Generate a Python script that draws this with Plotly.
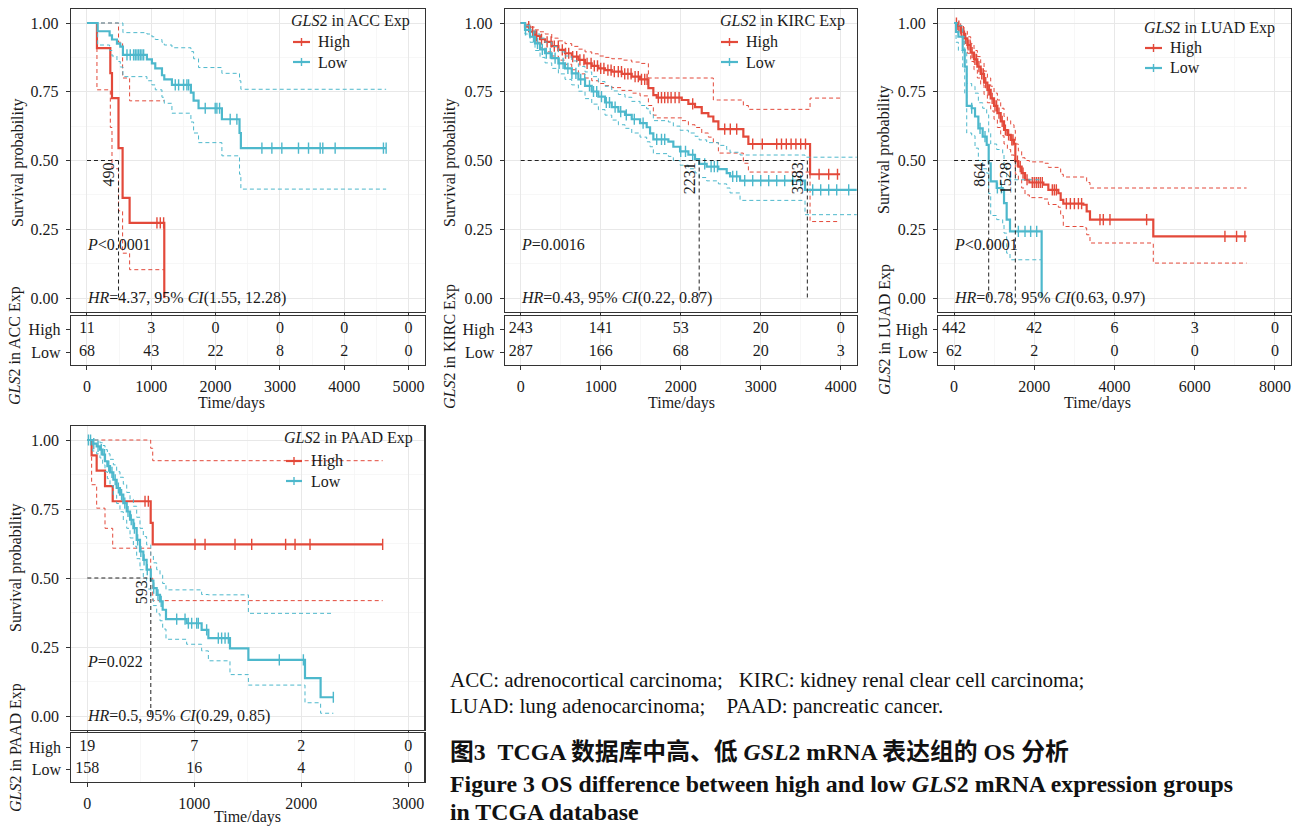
import plotly.graph_objects as go

W, H = 1298, 826
RED = '#E3493A'
TEAL = '#4DB8CC'
FONT = 'Liberation Serif'
TXT = '#1a1a1a'
FS = 16

# ---------------- ACC ----------------
acc_high_t = [0, 155, 363, 389, 490, 554, 663, 1202]
acc_high_s = [1.0, 0.909, 0.818, 0.727, 0.545, 0.364, 0.273, 0.0]
acc_high_up = [1.0, 1.0, 1.0, 1.0, 0.93, 0.80, 0.717, None]
acc_high_lo = [1.0, 0.757, 0.62, 0.47, 0.317, 0.163, 0.103, None]
acc_high_cens = [1088, 1140, 1192]
acc_high_end = 1202

acc_low_t = [0, 166, 352, 389, 466, 518, 559, 932, 1010, 1062, 1166, 1202, 1321, 1616, 1658, 1735, 2098, 2372, 2393]
acc_low_s = [1.0, 0.97, 0.955, 0.94, 0.925, 0.914, 0.884, 0.868, 0.853, 0.835, 0.81, 0.795, 0.775, 0.747, 0.718, 0.69, 0.65, 0.60, 0.545]
acc_low_up = [1.0, 1.0, 1.0, 1.0, 1.0, 1.0, 0.965, 0.96, 0.95, 0.94, 0.93, 0.92, 0.91, 0.896, 0.87, 0.838, 0.817, 0.79, 0.759]
acc_low_lo = [1.0, 0.92, 0.90, 0.88, 0.86, 0.84, 0.805, 0.79, 0.775, 0.757, 0.73, 0.708, 0.672, 0.64, 0.60, 0.565, 0.517, 0.45, 0.396]
acc_low_cens = [622, 673, 725, 751, 777, 803, 829, 855, 881, 1373, 1425, 1502, 1554, 1580, 1839, 1994, 2020, 2062,
                2227, 2331, 2720, 2875, 3030, 3289, 3445, 3626, 3667, 3859, 4610, 4652]
acc_low_end = 4652

acc_risk_times = [0, 1000, 2000, 3000, 4000, 5000]
acc_risk_high = [11, 3, 0, 0, 0, 0]
acc_risk_low = [68, 43, 22, 8, 2, 0]
acc_medians = [490]
acc_p = '<i>P</i><0.0001'
acc_hr = '<i>HR</i>=4.37, 95% <i>CI</i>(1.55, 12.28)'

# ---------------- KIRC ----------------
kirc_high_t = [0, 54, 117, 179, 242, 304, 388, 471, 554, 638, 721, 804, 888, 971, 1054, 1138, 1263, 1388, 1492,
               1596, 1658, 1700, 2013, 2096, 2179, 2263, 2346, 2408, 2471, 2783, 2846, 3617]
kirc_high_s = [1.0, 0.987, 0.969, 0.953, 0.941, 0.931, 0.916, 0.902, 0.890, 0.878, 0.866, 0.853, 0.844, 0.835, 0.829,
               0.823, 0.815, 0.805, 0.795, 0.763, 0.738, 0.729, 0.720, 0.706, 0.694, 0.672, 0.660, 0.642, 0.614,
               0.587, 0.560, 0.450]
kirc_high_up = [1.0, 0.995, 0.985, 0.975, 0.968, 0.96, 0.945, 0.935, 0.925, 0.915, 0.905, 0.895, 0.888, 0.88, 0.875,
                0.87, 0.865, 0.858, 0.853, 0.80, 0.80, 0.80, 0.80, 0.80, 0.80, 0.80, 0.80, 0.72, 0.72, 0.70, 0.686, 0.727]
kirc_high_lo = [1.0, 0.975, 0.95, 0.93, 0.91, 0.895, 0.88, 0.865, 0.85, 0.83, 0.815, 0.80, 0.79, 0.78, 0.772, 0.765,
                0.755, 0.745, 0.735, 0.70, 0.665, 0.655, 0.645, 0.63, 0.62, 0.60, 0.585, 0.565, 0.527, 0.49, 0.458, 0.278]
kirc_high_cens = [100, 150, 200, 260, 330, 380, 420, 470, 520, 560, 600, 650, 700, 740, 790, 830, 880, 920, 960,
                  1000, 1040, 1090, 1130, 1170, 1220, 1260, 1300, 1340, 1380, 1430, 1470, 1510, 1550, 1580, 1720,
                  1760, 1800, 1840, 1880, 1930, 1980, 2150, 2550, 2620, 2700, 2900, 3020, 3200, 3260, 3320, 3380,
                  3440, 3500, 3560, 3730, 3850, 3960]
kirc_high_end = 3992

kirc_low_t = [0, 54, 117, 179, 242, 304, 388, 471, 554, 638, 721, 804, 888, 971, 1054, 1138, 1221, 1304, 1388, 1492,
              1575, 1617, 1658, 1846, 1908, 1992, 2096, 2179, 2231, 2325, 2471, 2575, 2617, 2742, 3554]
kirc_low_s = [1.0, 0.975, 0.950, 0.926, 0.904, 0.890, 0.872, 0.853, 0.835, 0.817, 0.795, 0.771, 0.751, 0.732, 0.711,
              0.694, 0.678, 0.666, 0.650, 0.636, 0.621, 0.599, 0.577, 0.569, 0.550, 0.533, 0.521, 0.505, 0.488,
              0.478, 0.469, 0.454, 0.442, 0.427, 0.393]
kirc_low_up = [1.0, 0.99, 0.975, 0.96, 0.945, 0.93, 0.915, 0.895, 0.88, 0.862, 0.842, 0.822, 0.805, 0.787, 0.77,
               0.753, 0.74, 0.73, 0.715, 0.70, 0.688, 0.67, 0.645, 0.64, 0.625, 0.61, 0.60, 0.588, 0.575, 0.565,
               0.555, 0.54, 0.53, 0.52, 0.512]
kirc_low_lo = [1.0, 0.96, 0.93, 0.90, 0.875, 0.855, 0.835, 0.815, 0.795, 0.775, 0.752, 0.725, 0.705, 0.685, 0.665,
               0.647, 0.63, 0.617, 0.60, 0.585, 0.568, 0.55, 0.525, 0.515, 0.50, 0.483, 0.47, 0.455, 0.438, 0.426,
               0.415, 0.40, 0.382, 0.355, 0.303]
kirc_low_cens = [60, 110, 160, 210, 270, 320, 370, 430, 480, 530, 590, 640, 690, 750, 800, 860, 910, 950, 1010,
                 1070, 1110, 1180, 1250, 1320, 1420, 1530, 1700, 1760, 1800, 2000, 2060, 2150, 2300, 2380, 2420,
                 2460, 2650, 2700, 2800, 2900, 3000, 3100, 3200, 3300, 3400, 3500, 3650, 3750, 3850, 3950, 4100]
kirc_low_end = 4300

kirc_risk_times = [0, 1000, 2000, 3000, 4000]
kirc_risk_high = [243, 141, 53, 20, 0]
kirc_risk_low = [287, 166, 68, 20, 3]
kirc_medians = [2231, 3583]
kirc_p = '<i>P</i>=0.0016'
kirc_hr = '<i>HR</i>=0.43, 95% <i>CI</i>(0.22, 0.87)'

# ---------------- LUAD ----------------
luad_high_t = [0, 83, 166, 249, 332, 415, 498, 581, 664, 748, 831, 914, 997, 1080, 1163, 1246, 1329, 1412, 1495,
               1528, 1603, 1686, 1769, 1877, 2226, 2351, 2600, 2658, 2724, 3223, 3306, 3389, 4967]
luad_high_s = [1.0, 0.989, 0.969, 0.944, 0.920, 0.892, 0.868, 0.841, 0.815, 0.783, 0.757, 0.726, 0.699, 0.672, 0.642,
               0.611, 0.593, 0.575, 0.561, 0.498, 0.478, 0.454, 0.430, 0.420, 0.412, 0.393, 0.381, 0.357, 0.343,
               0.339, 0.315, 0.285, 0.224]
luad_high_up = [1.0, 1.0, 0.99, 0.97, 0.95, 0.925, 0.90, 0.878, 0.855, 0.825, 0.80, 0.77, 0.745, 0.72, 0.69, 0.66,
                0.645, 0.63, 0.61, 0.56, 0.535, 0.51, 0.50, 0.495, 0.49, 0.475, 0.47, 0.45, 0.44, 0.44, 0.42, 0.40, 0.40]
luad_high_lo = [1.0, 0.975, 0.95, 0.92, 0.89, 0.86, 0.83, 0.80, 0.775, 0.74, 0.71, 0.68, 0.65, 0.62, 0.59, 0.56,
                0.54, 0.52, 0.505, 0.45, 0.43, 0.40, 0.375, 0.365, 0.36, 0.34, 0.33, 0.30, 0.26, 0.255, 0.23, 0.20, 0.127]
luad_high_cens = [60, 120, 180, 230, 290, 350, 400, 450, 520, 560, 620, 690, 730, 790, 850, 880, 950, 1020, 1060,
                  1120, 1200, 1280, 1360, 1440, 1470, 1580, 1650, 1720, 1820, 1950, 2000, 2050, 2100, 2150, 2200,
                  2450, 2500, 2550, 2800, 2900, 3000, 3100, 3180, 3638, 3721, 3887, 4801, 6753, 7043, 7251]
luad_high_end = 7293

luad_low_t = [0, 50, 108, 216, 266, 316, 440, 523, 606, 714, 814, 864, 914, 1063, 1213, 1246, 1312, 1395, 2184]
luad_low_s = [1.0, 0.968, 0.950, 0.902, 0.841, 0.699, 0.690, 0.660, 0.617, 0.587, 0.557, 0.490, 0.424, 0.400,
              0.393, 0.345, 0.285, 0.242, 0.0]
luad_low_up = [1.0, 1.0, 0.99, 0.95, 0.90, 0.78, 0.77, 0.745, 0.71, 0.69, 0.666, 0.60, 0.56, 0.54, 0.52, 0.48,
               0.44, 0.43, None]
luad_low_lo = [1.0, 0.93, 0.90, 0.84, 0.74, 0.60, 0.59, 0.545, 0.50, 0.47, 0.454, 0.38, 0.30, 0.285, 0.27, 0.236,
               0.163, 0.139, None]
luad_low_cens = [440, 648, 772, 1080, 1180, 1603, 1769, 1910, 2060]
luad_low_end = 2184

luad_risk_times = [0, 2000, 4000, 6000, 8000]
luad_risk_high = [442, 42, 6, 3, 0]
luad_risk_low = [62, 2, 0, 0, 0]
luad_medians = [864, 1528]
luad_p = '<i>P</i><0.0001'
luad_hr = '<i>HR</i>=0.78, 95% <i>CI</i>(0.63, 0.97)'

# ---------------- PAAD ----------------
paad_high_t = [0, 40, 87, 165, 237, 592, 611]
paad_high_s = [1.0, 0.944, 0.889, 0.833, 0.778, 0.700, 0.622]
paad_high_up = [1.0, 1.0, 1.0, 1.0, 1.0, 0.97, 0.925]
paad_high_lo = [1.0, 0.838, 0.753, 0.68, 0.608, 0.50, 0.418]
paad_high_cens = [539, 570, 1006, 1100, 1380, 1536, 1853, 1941, 2081, 2760]
paad_high_end = 2760

paad_low_t = [0, 50, 87, 118, 143, 165, 187, 212, 243, 274, 305, 336, 368, 399, 430, 461, 492, 523, 554, 593, 617,
              648, 679, 704, 735, 928, 1068, 1131, 1333, 1505, 2034, 2180]
paad_low_s = [1.0, 0.987, 0.977, 0.965, 0.947, 0.923, 0.905, 0.883, 0.856, 0.826, 0.802, 0.771, 0.741, 0.711,
              0.681, 0.638, 0.596, 0.566, 0.530, 0.491, 0.463, 0.439, 0.415, 0.385, 0.351, 0.336, 0.312, 0.282,
              0.245, 0.203, 0.137, 0.068]
paad_low_up = [1.0, 1.0, 1.0, 0.99, 0.98, 0.965, 0.95, 0.93, 0.91, 0.885, 0.865, 0.84, 0.81, 0.785, 0.76, 0.72,
               0.68, 0.65, 0.62, 0.58, 0.555, 0.53, 0.51, 0.48, 0.457, 0.457, 0.44, 0.439, 0.439, 0.372, 0.372, 0.372]
paad_low_lo = [1.0, 0.96, 0.95, 0.935, 0.91, 0.885, 0.86, 0.835, 0.80, 0.77, 0.74, 0.71, 0.68, 0.645, 0.615, 0.57,
               0.53, 0.50, 0.46, 0.425, 0.40, 0.37, 0.345, 0.315, 0.278, 0.26, 0.236, 0.20, 0.15, 0.112, 0.048, 0.01]
paad_low_cens = [10, 30, 60, 100, 130, 160, 200, 230, 260, 290, 320, 350, 380, 410, 440, 470, 500, 530, 560, 620,
                 660, 690, 835, 913, 944, 975, 1022, 1037, 1115, 1224, 1255, 1287, 1318, 1794, 2019, 2299]
paad_low_end = 2299

paad_risk_times = [0, 1000, 2000, 3000]
paad_risk_high = [19, 7, 2, 0]
paad_risk_low = [158, 16, 4, 0]
paad_medians = [593]
paad_p = '<i>P</i>=0.022'
paad_hr = '<i>HR</i>=0.5, 95% <i>CI</i>(0.29, 0.85)'

group_labels = ['High', 'Low']
caption_lines = [
    'ACC: adrenocortical carcinoma;&nbsp;&nbsp; KIRC: kidney renal clear cell carcinoma;',
    'LUAD: lung adenocarcinoma;&nbsp;&nbsp;&nbsp; PAAD: pancreatic cancer.',
]
title_cn = '<b>图3&nbsp; TCGA 数据库中高、低 <i>GSL</i>2 mRNA 表达组的 OS 分析</b>'
title_en1 = '<b>Figure 3 OS difference between high and low <i>GLS</i>2 mRNA expression groups</b>'
title_en2 = '<b>in TCGA database</b>'


# ---------------- helpers ----------------
def fx(p):
    return p / W


def fy(p):
    return 1 - p / H


fig = go.Figure()
layout = dict(width=W, height=H, margin=dict(l=0, r=0, t=0, b=0), plot_bgcolor='white',
              paper_bgcolor='white', showlegend=False, font=dict(family=FONT, size=FS, color=TXT))
annotations = []
shapes = []


def surv_at(t, s, c):
    v = s[0]
    for ti, si in zip(t, s):
        if ti <= c:
            v = si
    return v


def add_group(xa, ya, t, s, up, lo, cens, end, color):
    k = next((i for i, v in enumerate(up) if v is None), len(up))
    ci_end = t[k] if k < len(t) else end
    for band in (up, lo):
        fig.add_trace(go.Scatter(x=list(t[:k]) + [ci_end], y=list(band[:k]) + [band[k - 1]], mode='lines',
                                 line=dict(color=color, width=1, dash='4px,3px', shape='hv'),
                                 xaxis=xa, yaxis=ya, hoverinfo='skip'))
    fig.add_trace(go.Scatter(x=list(t) + [end], y=list(s) + [s[-1]], mode='lines',
                             line=dict(color=color, width=2.2, shape='hv'), xaxis=xa, yaxis=ya, hoverinfo='skip'))
    fig.add_trace(go.Scatter(x=cens, y=[surv_at(t, s, c) for c in cens], mode='markers',
                             marker=dict(symbol='line-ns-open', size=8, color=color,
                                         line=dict(color=color, width=1.4)),
                             xaxis=xa, yaxis=ya, hoverinfo='skip'))


def font(size=FS):
    return dict(family=FONT, size=size, color=TXT)


def add_panel(i, spec, high, low, risk, medians, ptxt, hrtxt, legend_name, lg, titles):
    n1, n2 = 2 * i + 1, 2 * i + 2
    xa, ya = 'x%d' % n1, 'y%d' % n1
    xr, yr = 'x%d' % n2, 'y%d' % n2
    x0, x1, top, bot, rtop, rbot, p1, p0, rhi, rlo = spec['box']
    unit = p0 - p1
    yrange = [-(bot - p0) / unit, 1 + (p1 - top) / unit]
    runit = rlo - rhi
    rrange = [1 - (rbot - rlo) / runit, 2 + (rhi - rtop) / runit]
    dt = spec['dtick']
    common_x = dict(range=spec['xrange'], dtick=dt, tick0=0, showgrid=True, gridcolor='#E8E8E8', gridwidth=1,
                    minor=dict(dtick=dt / 2, tick0=0, showgrid=True, gridcolor='#F4F4F4', gridwidth=0.7),
                    showline=True, mirror=True, linecolor='#333333', linewidth=1.1, zeroline=False,
                    ticks='outside', ticklen=4, tickcolor='#333333', tickwidth=1, tickfont=font(),
                    ticklabelstandoff=3)
    layout['xaxis%d' % n1] = dict(common_x, domain=[fx(x0), fx(x1)], anchor=ya, showticklabels=False)
    layout['yaxis%d' % n1] = dict(domain=[fy(bot), fy(top)], anchor=xa, range=yrange,
                                  tickvals=[0, 0.25, 0.5, 0.75, 1.0],
                                  ticktext=['0.00', '0.25', '0.50', '0.75', '1.00'],
                                  showgrid=True, gridcolor='#E8E8E8', gridwidth=1,
                                  minor=dict(tickvals=[0.125, 0.375, 0.625, 0.875], showgrid=True,
                                             gridcolor='#F4F4F4', gridwidth=0.7),
                                  showline=True, mirror=True, linecolor='#333333', linewidth=1.1, zeroline=False,
                                  ticks='outside', ticklen=4, tickcolor='#333333', tickfont=font(),
                                  ticklabelstandoff=4)
    layout['xaxis%d' % n2] = dict(common_x, domain=[fx(x0), fx(x1)], anchor=yr, showticklabels=True)
    layout['yaxis%d' % n2] = dict(domain=[fy(rbot), fy(rtop)], anchor=xr, range=rrange,
                                  tickvals=[2, 1], ticktext=group_labels, showgrid=False,
                                  showline=True, mirror=True, linecolor='#333333', linewidth=1.1, zeroline=False,
                                  ticks='outside', ticklen=4, tickcolor='#333333', tickfont=font(),
                                  ticklabelstandoff=2)

    add_group(xa, ya, *high, RED)
    add_group(xa, ya, *low, TEAL)

    # median lines
    fig.add_trace(go.Scatter(x=[0, max(medians)], y=[0.5, 0.5], mode='lines',
                             line=dict(color='#222222', width=1, dash='4px,3px'), xaxis=xa, yaxis=ya,
                             hoverinfo='skip'))
    for m in medians:
        fig.add_trace(go.Scatter(x=[m, m], y=[0.5, 0], mode='lines',
                                 line=dict(color='#222222', width=1, dash='4px,3px'), xaxis=xa, yaxis=ya,
                                 hoverinfo='skip'))
        annotations.append(dict(x=m, y=0.5, xref=xa, yref=ya, text=str(m), textangle=-90, showarrow=False,
                                xanchor='right', yanchor='top', xshift=1, font=font()))

    annotations.append(dict(x=0, y=spec['py'], xref=xa, yref=ya, text=ptxt, showarrow=False, xanchor='left',
                            yanchor='middle', xshift=-2, font=font()))
    annotations.append(dict(x=0, y=spec['hy'], xref=xa, yref=ya, text=hrtxt, showarrow=False, xanchor='left',
                            yanchor='middle', xshift=-2, font=font()))

    # risk table
    times, rh, rl = risk
    fig.add_trace(go.Scatter(x=times, y=[2] * len(times), mode='text', text=[str(v) for v in rh],
                             textfont=font(), xaxis=xr, yaxis=yr, hoverinfo='skip', cliponaxis=False))
    fig.add_trace(go.Scatter(x=times, y=[1] * len(times), mode='text', text=[str(v) for v in rl],
                             textfont=font(), xaxis=xr, yaxis=yr, hoverinfo='skip', cliponaxis=False))

    # legend (drawn manually)
    tx, ty, kx0, kx1, hy, ly, txt_x = lg
    annotations.append(dict(x=fx(tx), y=fy(ty), xref='paper', yref='paper', text=legend_name, showarrow=False,
                            xanchor='left', yanchor='middle', xshift=-2, font=font()))
    for yy, col, lab in ((hy, RED, group_labels[0]), (ly, TEAL, group_labels[1])):
        shapes.append(dict(type='line', xref='paper', yref='paper', x0=fx(kx0), x1=fx(kx1), y0=fy(yy), y1=fy(yy),
                           line=dict(color=col, width=2.2)))
        km = (kx0 + kx1) / 2
        shapes.append(dict(type='line', xref='paper', yref='paper', x0=fx(km), x1=fx(km), y0=fy(yy - 4),
                           y1=fy(yy + 4), line=dict(color=col, width=1.4)))
        annotations.append(dict(x=fx(txt_x), y=fy(yy), xref='paper', yref='paper', text=lab, showarrow=False,
                                xanchor='left', yanchor='middle', xshift=-2, font=font()))

    # axis titles
    sx, sy, rx, ry, tdx, tdy = titles
    annotations.append(dict(x=fx(sx), y=fy(sy), xref='paper', yref='paper', text='Survival probability',
                            textangle=-90, showarrow=False, xanchor='center', yanchor='middle', font=font()))
    annotations.append(dict(x=fx(rx), y=fy(ry), xref='paper', yref='paper', text=spec['rtitle'],
                            textangle=-90, showarrow=False, xanchor='center', yanchor='middle', font=font()))
    annotations.append(dict(x=fx(tdx), y=fy(tdy), xref='paper', yref='paper', text='Time/days',
                            showarrow=False, xanchor='center', yanchor='middle', font=font()))


add_panel(0, dict(box=(70.9, 424.6, 9.25, 311.75, 316, 365, 23, 298, 329, 352), xrange=[-250, 5250], dtick=1000,
                  py=0.194, hy=0.0, rtitle='<i>GLS</i>2 in ACC Exp'),
          (acc_high_t, acc_high_s, acc_high_up, acc_high_lo, acc_high_cens, acc_high_end),
          (acc_low_t, acc_low_s, acc_low_up, acc_low_lo, acc_low_cens, acc_low_end),
          (acc_risk_times, acc_risk_high, acc_risk_low), acc_medians, acc_p, acc_hr,
          '<i>GLS</i>2 in ACC Exp', (291, 21, 293, 310, 42, 62, 318), (18, 163, 15, 346, 232, 403))

add_panel(1, dict(box=(504.7, 856.7, 9.25, 311.75, 316, 365, 23, 298, 329, 352), xrange=[-200, 4200], dtick=1000,
                  py=0.194, hy=0.0, rtitle='<i>GLS</i>2 in KIRC Exp'),
          (kirc_high_t, kirc_high_s, kirc_high_up, kirc_high_lo, kirc_high_cens, kirc_high_end),
          (kirc_low_t, kirc_low_s, kirc_low_up, kirc_low_lo, kirc_low_cens, kirc_low_end),
          (kirc_risk_times, kirc_risk_high, kirc_risk_low), kirc_medians, kirc_p, kirc_hr,
          '<i>GLS</i>2 in KIRC Exp', (720, 21, 721, 738, 42, 62, 746), (450, 163, 450, 347, 681, 403))

add_panel(2, dict(box=(938, 1291, 9.25, 311.75, 316, 365, 23, 298, 329, 352), xrange=[-400, 8400], dtick=2000,
                  py=0.194, hy=0.0, rtitle='<i>GLS</i>2 in LUAD Exp'),
          (luad_high_t, luad_high_s, luad_high_up, luad_high_lo, luad_high_cens, luad_high_end),
          (luad_low_t, luad_low_s, luad_low_up, luad_low_lo, luad_low_cens, luad_low_end),
          (luad_risk_times, luad_risk_high, luad_risk_low), luad_medians, luad_p, luad_hr,
          '<i>GLS</i>2 in LUAD Exp', (1144, 28, 1145, 1162, 48, 68, 1170), (884, 150, 885, 329, 1097, 403))

add_panel(3, dict(box=(71.3, 424.4, 426.2, 729.8, 733, 782, 440, 716, 747, 769), xrange=[-150, 3150], dtick=1000,
                  py=0.197, hy=0.0, rtitle='<i>GLS</i>2 in PAAD Exp'),
          (paad_high_t, paad_high_s, paad_high_up, paad_high_lo, paad_high_cens, paad_high_end),
          (paad_low_t, paad_low_s, paad_low_up, paad_low_lo, paad_low_cens, paad_low_end),
          (paad_risk_times, paad_risk_high, paad_risk_low), paad_medians, paad_p, paad_hr,
          '<i>GLS</i>2 in PAAD Exp', (284, 438, 286, 302, 461, 481, 311), (16, 568, 16, 748, 247, 817))

# caption
for txt, yy in zip(caption_lines, [680, 706]):
    annotations.append(dict(x=fx(450), y=fy(yy), xref='paper', yref='paper', text=txt, showarrow=False,
                            xanchor='left', yanchor='middle', xshift=-2,
                            font=dict(family=FONT, size=21, color='#111')))
for txt, yy in zip([title_cn, title_en1, title_en2], [752, 784, 812]):
    annotations.append(dict(x=fx(450), y=fy(yy), xref='paper', yref='paper', text=txt, showarrow=False,
                            xanchor='left', yanchor='middle', xshift=-2,
                            font=dict(family=FONT + ', Noto Sans CJK SC', size=23.8, color='#111')))

layout['annotations'] = annotations
layout['shapes'] = shapes
fig.update_layout(**layout)
fig.write_html('out.html', config={'displayModeBar': False, 'staticPlot': True},
               post_script="document.body.style.margin='0';document.body.style.overflow='hidden';")
